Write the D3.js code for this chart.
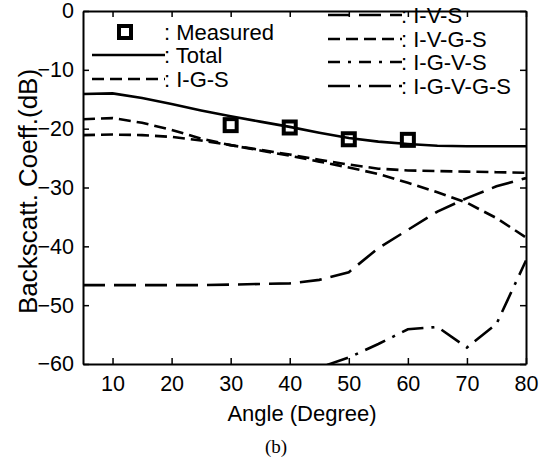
<!DOCTYPE html>
<html><head><meta charset="utf-8">
<script src="https://cdn.jsdelivr.net/npm/d3@7"></script>
<style>
html,body{margin:0;padding:0;background:#fff;}
text{font-family:"Liberation Sans",Arial,sans-serif;fill:#000;}
</style></head>
<body><svg id="c" width="549" height="461"></svg>
<script>
// ---- data ----
const angles = [5,10,15,20,25,30,35,40,45,50,55,60,65,70,75,80];
const total  = [-14.1,-14.0,-14.8,-15.8,-16.9,-17.9,-18.8,-19.7,-20.7,-21.6,-22.2,-22.6,-22.9,-23.0,-23.0,-23.0];
const igs    = [-18.4,-18.2,-19.0,-20.2,-21.7,-22.8,-23.7,-24.6,-25.6,-26.6,-27.7,-29.2,-30.8,-32.6,-35.2,-38.5];
const ivgs   = [-21.1,-21.0,-21.1,-21.4,-22.0,-22.8,-23.6,-24.4,-25.3,-26.1,-26.8,-27.1,-27.2,-27.3,-27.4,-27.5];
const ivs    = [-46.6,-46.6,-46.6,-46.6,-46.6,-46.5,-46.4,-46.3,-45.7,-44.4,-40.3,-37.2,-34.1,-31.8,-29.8,-28.4];
const igvgsAngles = [40,45,50,55,60,65,70,75,80];
const igvgs  = [-63.0,-60.6,-58.9,-56.6,-54.1,-53.7,-57.2,-53.2,-42.4];
const measAngles = [30,40,50,60];
const measured   = [-19.4,-19.8,-21.8,-21.9];
const xTicks = [10,20,30,40,50,60,70,80];
const yTicks = [0,-10,-20,-30,-40,-50,-60];

const svg = d3.select("#c");
const L=83, R=526, T=11, B=364;
const x = d3.scaleLinear().domain([5,80]).range([L,R]);
const y = d3.scaleLinear().domain([-60,0]).range([B,T]);

svg.append("defs").append("clipPath").attr("id","clip")
  .append("rect").attr("x",L).attr("y",T).attr("width",R-L).attr("height",B-T);

const fs = 21.5, lfs = 22;
// axes
const axB = svg.append("g").attr("transform",`translate(0,${B})`)
  .call(d3.axisBottom(x).tickValues(xTicks).tickSizeInner(-6).tickSizeOuter(0).tickPadding(12));
const axT = svg.append("g").attr("transform",`translate(0,${T})`)
  .call(d3.axisTop(x).tickValues(xTicks).tickSizeInner(-6).tickSizeOuter(0).tickFormat(""));
const axL = svg.append("g").attr("transform",`translate(${L},0)`)
  .call(d3.axisLeft(y).tickValues(yTicks).tickSizeInner(-6).tickSizeOuter(0).tickPadding(9));
const axR = svg.append("g").attr("transform",`translate(${R},0)`)
  .call(d3.axisRight(y).tickValues(yTicks).tickSizeInner(-6).tickSizeOuter(0).tickFormat(""));
[axB,axT,axL,axR].forEach(a=>{
  a.select(".domain").attr("stroke","#000").attr("stroke-width",2);
  a.selectAll(".tick line").attr("stroke","#000").attr("stroke-width",1.5);
  a.selectAll(".tick text").attr("font-size",fs).attr("font-family","Liberation Sans, Arial, sans-serif");
});

// axis titles
svg.append("text").attr("x",302).attr("y",421).attr("text-anchor","middle")
  .attr("font-size",22).text("Angle (Degree)");
svg.append("text").attr("transform",`translate(37,${(T+B)/2+4}) rotate(-90)`)
  .attr("text-anchor","middle").attr("font-size",26).text("Backscatt. Coeff.(dB)");
svg.append("text").attr("x",276).attr("y",453).attr("text-anchor","middle")
  .style("font-family","Liberation Serif, Times New Roman, serif").attr("font-size",19).text("(b)");

// curves
const g = svg.append("g").attr("clip-path","url(#clip)");
const line = d3.line().x(d=>x(d[0])).y(d=>y(d[1]));
const series = [
  {name:"Total", xs:angles, ys:total, dash:null, w:2.6},
  {name:"I-G-S", xs:angles, ys:igs, dash:"12,6", w:2.6},
  {name:"I-V-S", xs:angles, ys:ivs, dash:"22,9", w:2.6},
  {name:"I-V-G-S", xs:angles, ys:ivgs, dash:"12,6", w:2.6},
  {name:"I-G-V-G-S", xs:igvgsAngles, ys:igvgs, dash:"22,8,3,8", w:2.6}
];
series.forEach(s=>{
  g.append("path").datum(s.xs.map((a,i)=>[a,s.ys[i]]))
   .attr("d",line).attr("fill","none").attr("stroke","#000")
   .attr("stroke-width",s.w).attr("stroke-dasharray",s.dash);
});
// measured squares
g.selectAll("rect.m").data(measAngles.map((a,i)=>[a,measured[i]])).enter()
  .append("rect").attr("x",d=>x(d[0])-6).attr("y",d=>y(d[1])-6)
  .attr("width",12).attr("height",12).attr("fill","none").attr("stroke","#000").attr("stroke-width",4);

// legends
const lg = svg.append("g");
lg.append("rect").attr("x",125-6).attr("y",32-6).attr("width",12).attr("height",12)
  .attr("fill","none").attr("stroke","#000").attr("stroke-width",4);
const leftRows = [{y:32,label:": Measured",dash:"none"},{y:55,label:": Total",dash:null},{y:79,label:": I-G-S",dash:"12,6"}];
leftRows.forEach(r=>{
  if(r.dash!=="none") lg.append("line").attr("x1",92).attr("x2",165).attr("y1",r.y).attr("y2",r.y)
    .attr("stroke","#000").attr("stroke-width",2.6).attr("stroke-dasharray",r.dash);
  lg.append("text").attr("x",164).attr("y",r.y+8).attr("font-size",lfs).text(r.label);
});
const rightRows = [{y:15,label:": I-V-S",dash:"22,9"},{y:39,label:": I-V-G-S",dash:"12,6"},
  {y:62,label:": I-G-V-S",dash:"12,8,3,8"},{y:86,label:": I-G-V-G-S",dash:"22,8,3,8"}];
rightRows.forEach(r=>{
  lg.append("line").attr("x1",328).attr("x2",402).attr("y1",r.y).attr("y2",r.y)
    .attr("stroke","#000").attr("stroke-width",2.6).attr("stroke-dasharray",r.dash);
  lg.append("text").attr("x",401).attr("y",r.y+8).attr("font-size",lfs).text(r.label);
});
</script></body></html>
